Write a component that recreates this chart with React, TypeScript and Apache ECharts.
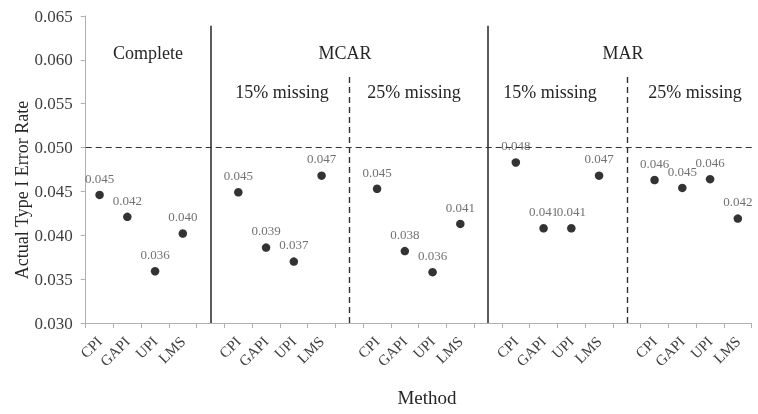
import React, { useEffect, useRef } from "react";
import * as echarts from "echarts";

const methods = ["CPI", "GAPI", "UPI", "LMS"];
const completeVals = [0.0446, 0.0421, 0.0359, 0.0402];
const mcar15Vals = [0.0449, 0.0386, 0.037, 0.0468];
const mcar25Vals = [0.0453, 0.0382, 0.0358, 0.0413];
const mar15Vals = [0.0483, 0.0408, 0.0408, 0.0468];
const mar25Vals = [0.0463, 0.0454, 0.0464, 0.0419];
const yTicks = { min: 0.03, max: 0.065, interval: 0.005 };
const nominalRate = 0.05;

const groupsVals = [completeVals, mcar15Vals, mcar25Vals, mar15Vals, mar25Vals];

const FONT = "'Liberation Serif', 'Times New Roman', serif";

export default function App() {
  const ref = useRef<HTMLDivElement>(null);
  useEffect(() => {
    if (!ref.current) return;
    const chart = echarts.init(ref.current, null, { renderer: "svg" });
    const categories: string[] = [];
    const data: any[] = [];
    groupsVals.forEach((vals, gi) => {
      if (gi > 0) {
        categories.push("");
        data.push("-");
      }
      methods.forEach((m, i) => {
        categories.push(m);
        data.push(vals[i]);
      });
    });
    const solidIdx = [4, 14];
    const dashIdx = [9, 19];
    const titleStyle = { fontFamily: FONT, fontSize: 18, fill: "#262626", textAlign: "center", textVerticalAlign: "middle" };
    const mk = (text: string, x: number, y: number) => ({ type: "text", x, y, style: { ...titleStyle, text } });
    chart.setOption({
      animation: false,
      grid: { left: 85.7, right: 6.3, top: 16, bottom: 91 },
      xAxis: {
        type: "category",
        data: categories,
        boundaryGap: true,
        axisLine: { show: true, lineStyle: { color: "#b0b0b0", width: 1 } },
        axisTick: { show: true, interval: 0, length: 5, lineStyle: { color: "#b0b0b0" } },
        axisLabel: { interval: 0, rotate: 45, fontFamily: FONT, fontSize: 15, color: "#404040", margin: 16 },
        splitLine: { show: false },
      },
      yAxis: {
        type: "value",
        min: yTicks.min,
        max: yTicks.max,
        interval: yTicks.interval,
        axisLine: { show: true, lineStyle: { color: "#b0b0b0", width: 1 } },
        axisTick: { show: true, length: 5, lineStyle: { color: "#b0b0b0" } },
        axisLabel: { fontFamily: FONT, fontSize: 17, color: "#404040", margin: 13, formatter: (v: number) => v.toFixed(3) },
        splitLine: { show: false },
      },
      series: [
        {
          type: "scatter",
          data,
          symbol: "circle",
          symbolSize: 8.5,
          itemStyle: { color: "#000" },
          label: {
            show: true,
            position: "top",
            distance: 6,
            fontFamily: FONT,
            fontSize: 13,
            color: "#4d4d4d",
            formatter: (p: any) => Number(p.value).toFixed(3),
          },
          markLine: {
            silent: true,
            symbol: "none",
            label: { show: false },
            data: [
              { yAxis: nominalRate, lineStyle: { type: [6, 4], color: "#333", width: 1.2 } },
              ...solidIdx.map((i) => [
                { coord: [i, yTicks.min], lineStyle: { type: "solid", color: "#333", width: 1.6 } },
                { coord: [i, 0.0639] },
              ]),
              ...dashIdx.map((i) => [
                { coord: [i, yTicks.min], lineStyle: { type: [6, 4], color: "#333", width: 1.4 } },
                { coord: [i, 0.0584] },
              ]),
            ],
          },
        },
      ],
      graphic: [
        mk("Complete", 148, 53),
        mk("MCAR", 345, 53),
        mk("15% missing", 282, 92),
        mk("25% missing", 414, 92),
        mk("MAR", 623, 53),
        mk("15% missing", 550, 92),
        mk("25% missing", 695, 92),
        {
          type: "text",
          x: 22,
          y: 190,
          rotation: Math.PI / 2,
          style: { ...titleStyle, fontSize: 18, text: "Actual Type I Error Rate" },
        },
        { type: "text", x: 427, y: 397, style: { ...titleStyle, fontSize: 19, text: "Method" } },
      ],
    });
    return () => chart.dispose();
  }, []);
  return <div ref={ref} style={{ position: "fixed", left: 0, top: 0, width: 758, height: 414 }} />;
}
